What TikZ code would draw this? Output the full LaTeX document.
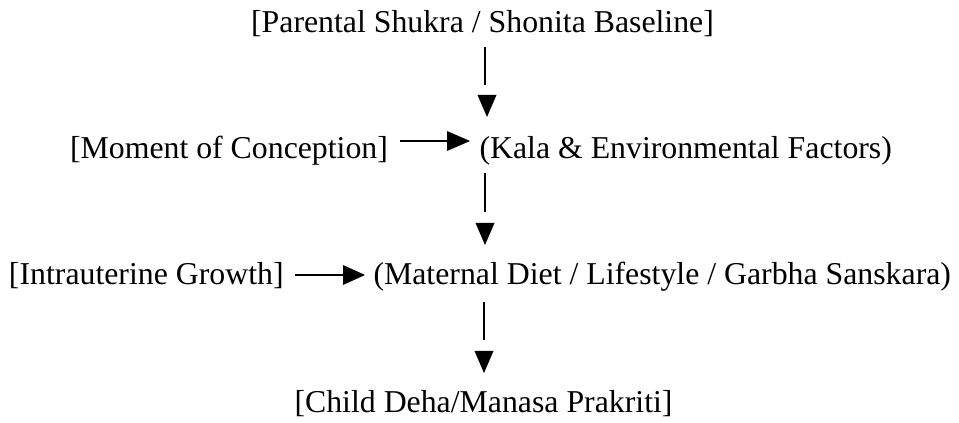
\documentclass[tikz,border=0pt]{standalone}
\usepackage{fontspec}
\setmainfont{Liberation Serif}
\begin{document}
\begin{tikzpicture}[x=1pt,y=1pt,
  lbl/.style={inner sep=0pt, outer sep=0pt, font=\fontsize{31.8}{38}\selectfont},
  stem/.style={line width=2pt},
  tipfill/.style={fill=black},
]
\useasboundingbox (0,0) rectangle (959,423);
% text nodes
\node[lbl, anchor=base] (par) at (482.5,390) {[Parental Shukra / Shonita Baseline]};
\node[lbl, anchor=base west] (moc) at (70,264) {[Moment of Conception]};
\node[lbl, anchor=base west] (kala) at (479.5,264) {(Kala \& Environmental Factors)};
\node[lbl, anchor=base west] (ig) at (9,138) {[Intrauterine Growth]};
\node[lbl, anchor=base west] (mat) at (373.5,138) {(Maternal Diet / Lifestyle / Garbha Sanskara)};
\node[lbl, anchor=base] (child) at (483.5,10) {[Child Deha/Manasa Prakriti]};
% vertical connector 1: par -> kala
\coordinate (v1a) at (485,376);
\coordinate (v1b) at (485,338);
\coordinate (t1) at (487,306);
\draw[stem] (v1a) -- (v1b);
\fill[tipfill] (t1) -- ++(-9.5,22) -- ++(19,0) -- cycle;
% vertical connector 2: kala -> mat
\coordinate (v2a) at (485,250);
\coordinate (v2b) at (485,211);
\coordinate (t2) at (485,178);
\draw[stem] (v2a) -- (v2b);
\fill[tipfill] (t2) -- ++(-9.5,22) -- ++(19,0) -- cycle;
% vertical connector 3: mat -> child
\coordinate (v3a) at (484,121);
\coordinate (v3b) at (484,83);
\coordinate (t3) at (484,50);
\draw[stem] (v3a) -- (v3b);
\fill[tipfill] (t3) -- ++(-9.5,22) -- ++(19,0) -- cycle;
% horizontal connector: moc -> kala
\coordinate (h1a) at (400,282);
\coordinate (h1b) at (447,282);
\coordinate (r1) at (470,282);
\draw[stem] (h1a) -- (h1b);
\fill[tipfill] (r1) -- ++(-23,10) -- ++(0,-20) -- cycle;
% horizontal connector: ig -> mat
\coordinate (h2a) at (295,148);
\coordinate (h2b) at (343,148);
\coordinate (r2) at (365,148);
\draw[stem] (h2a) -- (h2b);
\fill[tipfill] (r2) -- ++(-22,10) -- ++(0,-20) -- cycle;
\end{tikzpicture}
\end{document}
